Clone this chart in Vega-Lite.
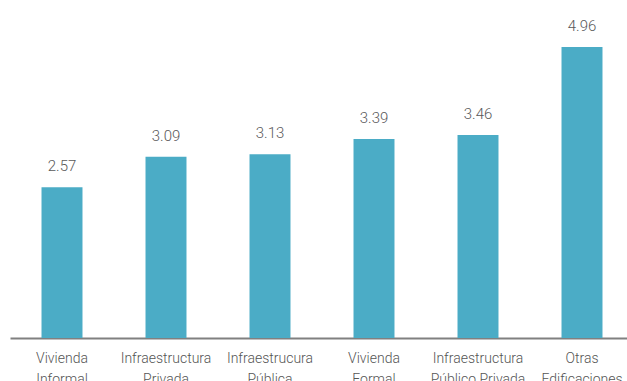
{
  "$schema": "https://vega.github.io/schema/vega-lite/v6.json",
  "autosize": {"type": "none"},
  "padding": {"left": 10, "top": 0, "right": 0, "bottom": 43},
  "width": 624,
  "height": 338,
  "background": "white",
  "data": {"values": [
    {"cat": "Vivienda|Informal", "v": 2.57},
    {"cat": "Infraestructura|Privada", "v": 3.09},
    {"cat": "Infraestrucura|Pública", "v": 3.13},
    {"cat": "Vivienda|Formal", "v": 3.39},
    {"cat": "Infraestructura|Público Privada", "v": 3.46},
    {"cat": "Otras|Edificaciones", "v": 4.96}
  ]},
  "config": {"view": {"stroke": null}},
  "encoding": {
    "x": {"field": "cat", "type": "nominal", "sort": null,
      "scale": {"paddingInner": 0.606, "paddingOuter": 0.303},
      "axis": {"title": null, "labelAngle": 0, "ticks": false, "domainColor": "#808080", "domainWidth": 2, "domainOpacity": 1,
        "labelExpr": "split(datum.label, '|')", "labelFont": "Roboto", "labelFontWeight": 300,
        "labelFontSize": 14, "labelColor": "#555555", "labelPadding": 13, "labelLineHeight": 21, "labelLimit": 0}},
    "y": {"field": "v", "type": "quantitative", "scale": {"domain": [0, 5.76], "nice": false}, "axis": null}
  },
  "layer": [
    {"mark": {"type": "bar", "color": "#4BACC6"}},
    {"mark": {"type": "text", "dy": -13, "baseline": "bottom", "font": "Roboto", "fontWeight": 300, "fontSize": 15, "color": "#595959"},
     "encoding": {"text": {"field": "v", "type": "quantitative", "format": ".2f"}}}
  ]
}
